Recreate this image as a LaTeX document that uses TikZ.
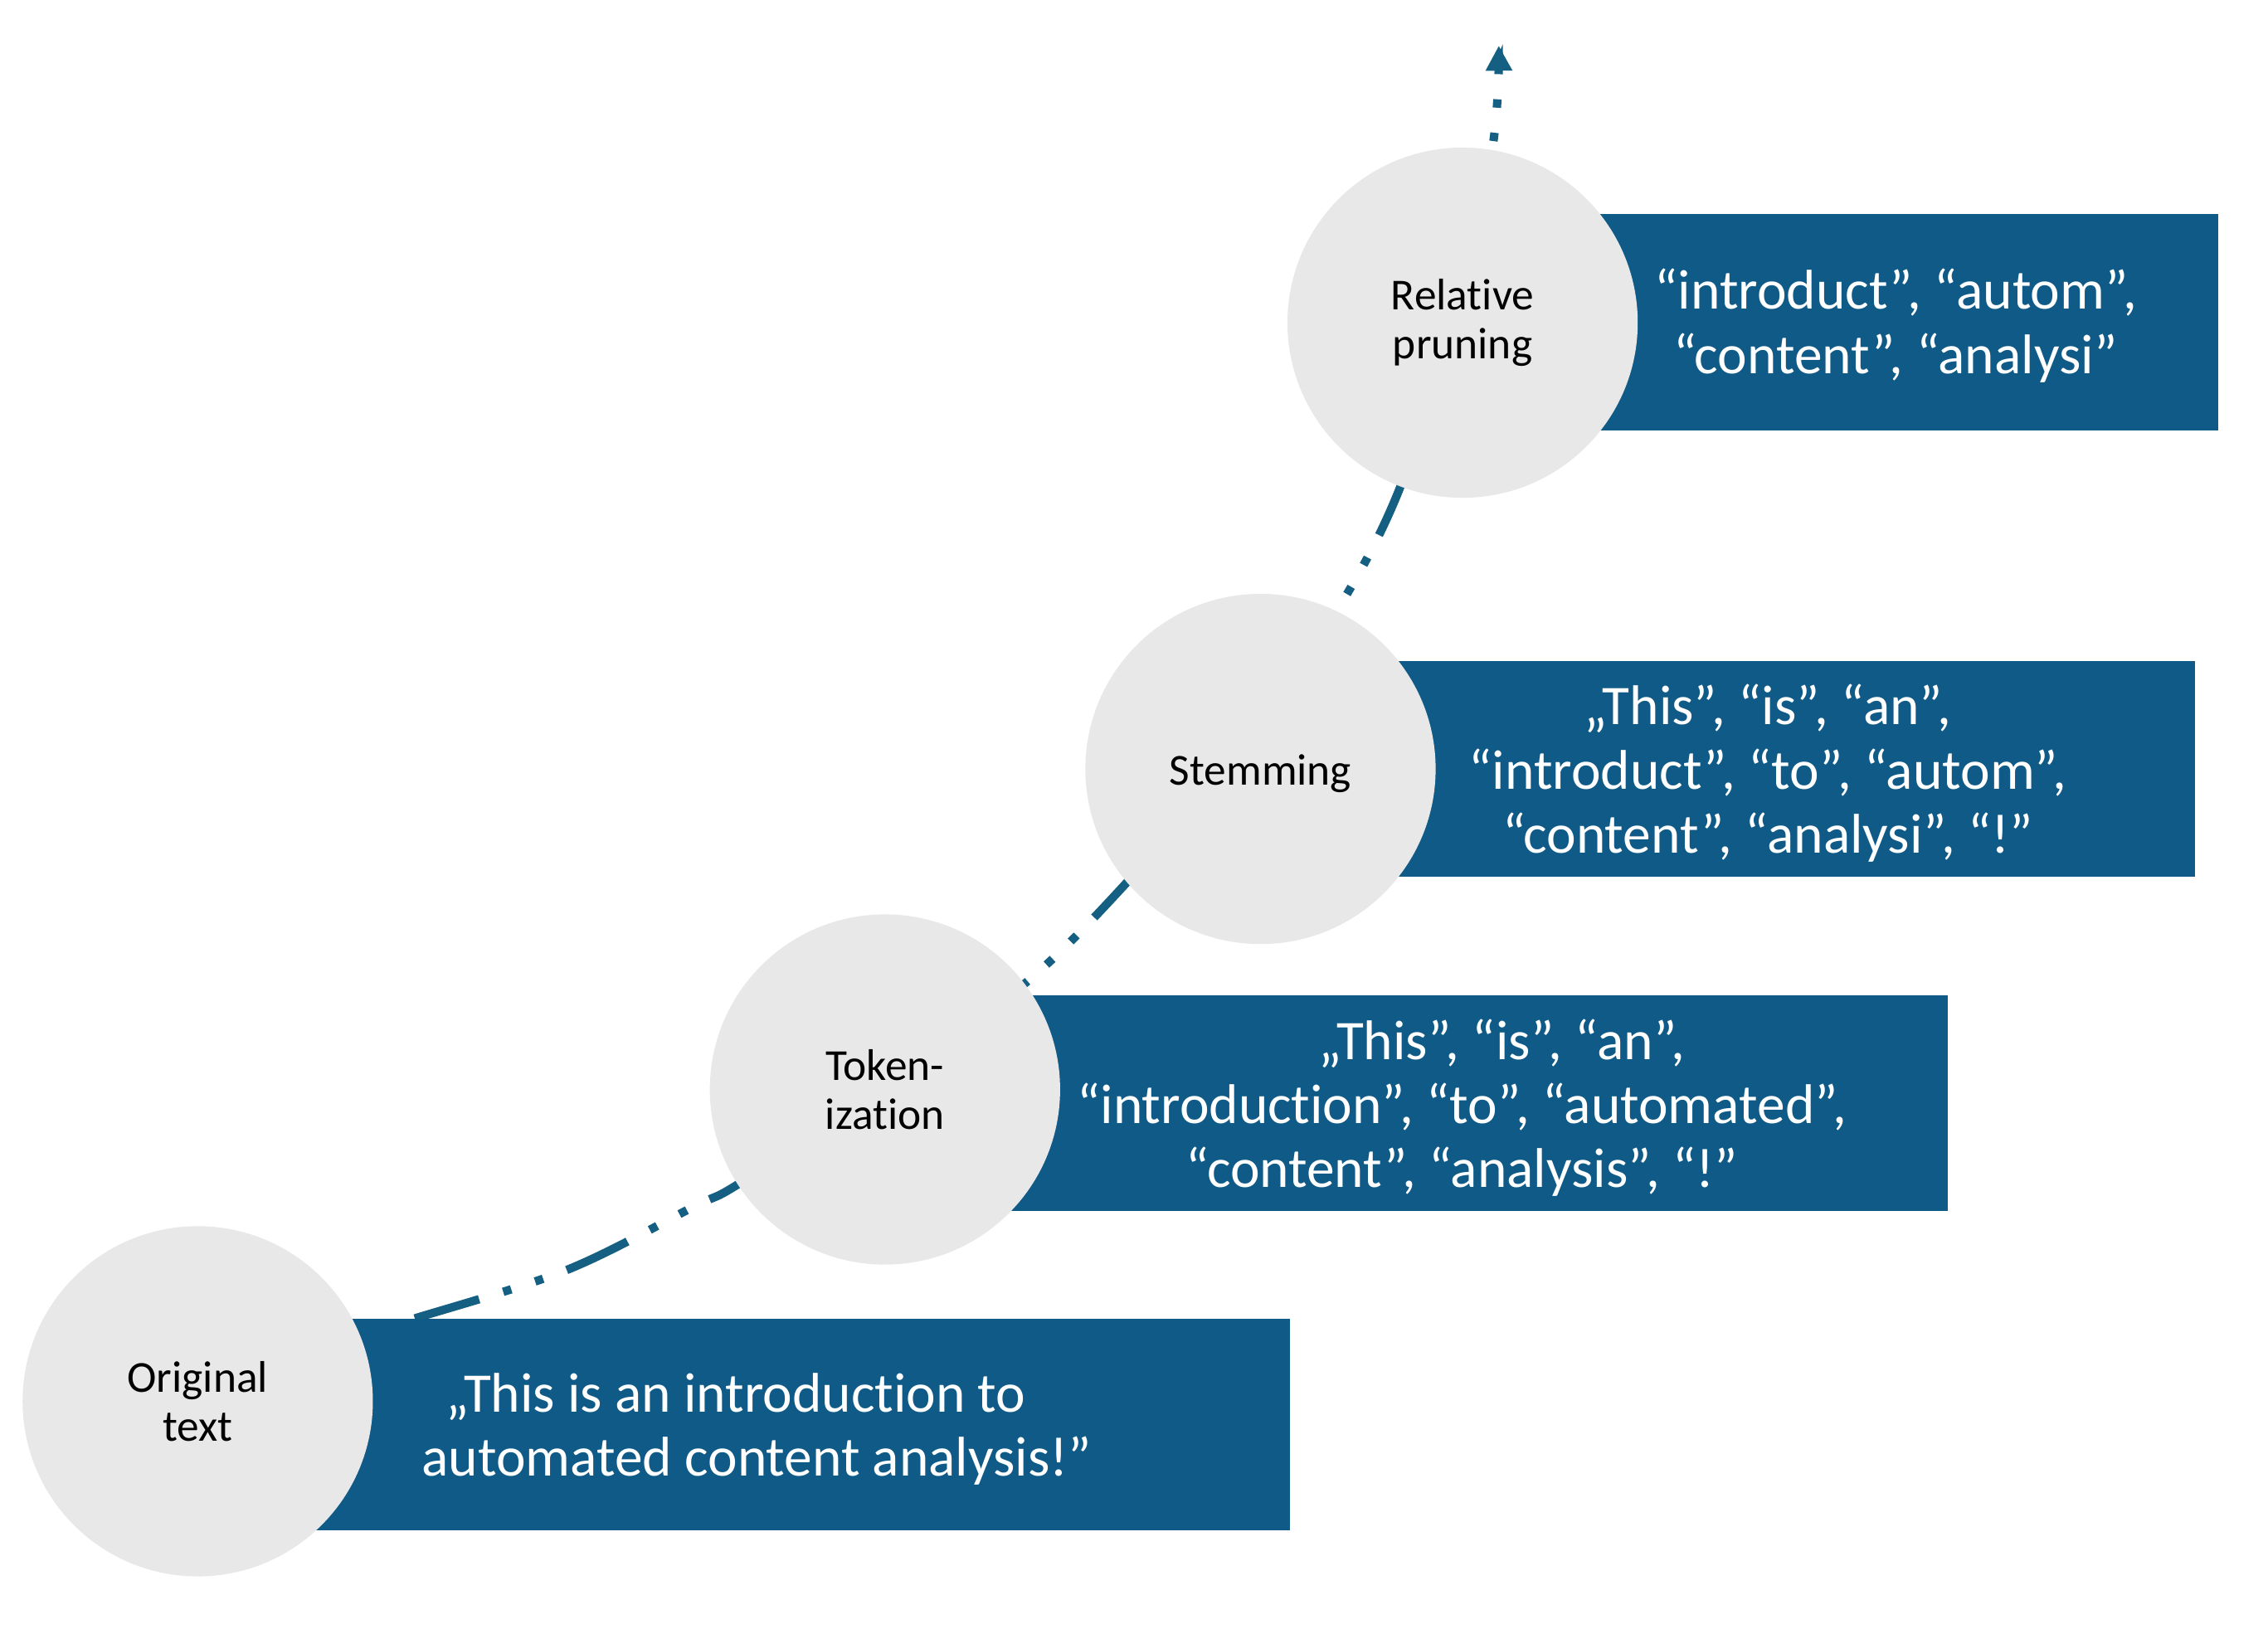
\documentclass[tikz,border=0pt]{standalone}
\usepackage{fontspec}
\setmainfont{Carlito}[Ligatures=NoCommon]
\usetikzlibrary{arrows.meta}
\definecolor{boxblue}{HTML}{0F5A87}
\definecolor{lineblue}{HTML}{156082}
\definecolor{circgray}{HTML}{E8E8E8}
\tikzset{
  circ/.style={circle, fill=circgray, minimum size=4.224cm, inner sep=0pt, align=center,
    font=\fontsize{15.2}{16.8}\selectfont, text=black},
  boxfill/.style={fill=boxblue},
  boxtext/.style={align=center, text=white, inner sep=0pt,
    font=\fontsize{19.2}{22}\selectfont},
  flow/.style={draw=lineblue, line width=2.88pt,
    dash pattern=on 23.04pt off 8.64pt on 2.88pt off 8.64pt on 2.88pt off 8.64pt,
    dash phase=26pt,
    -{Triangle[width=8.6pt,length=8.6pt]}}
}
\begin{document}
\begin{tikzpicture}[x=0.017526cm,y=0.017526cm]
\useasboundingbox (0,0) rectangle (1560,1120.6);
% connector (behind everything)
\coordinate (s) at (230,197.6);
\coordinate (tip) at (1030.9,1089.2);
\draw[flow] plot[smooth, tension=0.55] coordinates {(s) (285.3,213.6) (390,247) (477.4,290.6) (508.8,306.6) (608,372) (706.8,445.6) (775.4,513.9) (850,601) (920,701.2) (963.7,787) (1000,905) (1026.5,1018.9) (tip)};
% boxes
\path[boxfill] (176,67.6) rectangle (887,213.6);
\path[boxfill] (650,287.6) rectangle (1340,435.6);
\path[boxfill] (910,517.6) rectangle (1510,665.6);
\path[boxfill] (1050,824.6) rectangle (1526,973.3);
% box texts
\node[boxtext] (t1) at (520.5,137.6) {„This is an introduction to\hspace*{14.4pt}\\automated content analysis!”};
\node[boxtext] (t2) at (1005.6,358.6) {\hspace*{27.4pt}„This”, “is”, “an”,\\“introduction”, “to”, “automated”,\\“content”, “analysis”, “!”};
\node[boxtext] (t3) at (1216,588.6) {„This”, “is”, “an”,\\“introduct”, “to”, “autom”,\\“content”, “analysi”, “!”};
\node[boxtext] (t4) at (1304,896.5) {“introduct”, “autom”,\\“content”, “analysi”};
% circles
\node[circ] (c1) at (136,156.6) {Original\\text};
\node[circ] (c2) at (608.7,371.1) {Token-\\ization};
\node[circ] (c3) at (867,591.6) {\raisebox{-1.5pt}[\height][\depth]{Stemming}};
\node[circ] (c4) at (1006,898.6) {Relative\\pruning};
\end{tikzpicture}
\end{document}
